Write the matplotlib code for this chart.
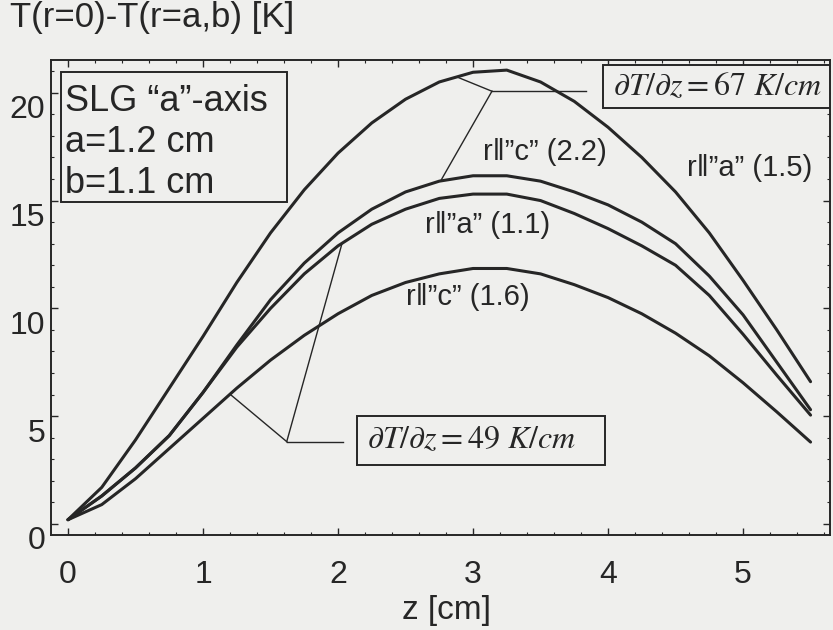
import numpy as np
import matplotlib
matplotlib.use("Agg")
import matplotlib.pyplot as plt
from matplotlib.patches import Rectangle
from matplotlib.ticker import MultipleLocator
import matplotlib.transforms as mtransforms

# axial position z [cm]
z = [0.0, 0.25, 0.5, 0.75, 1.0, 1.25, 1.5, 1.75, 2.0, 2.25, 2.5, 2.75,
     3.0, 3.25, 3.5, 3.75, 4.0, 4.25, 4.5, 4.75, 5.0, 5.25, 5.5]

# T(r=0)-T(r=a,b) [K] for each direction / gradient case
dT_a_15 = [0.2, 1.7, 3.9, 6.3, 8.7, 11.2, 13.5, 15.5, 17.2, 18.6, 19.7, 20.5,
           20.95, 21.05, 20.5, 19.6, 18.4, 17.0, 15.4, 13.5, 11.3, 9.0, 6.6]
dT_c_22 = [0.2, 1.3, 2.6, 4.1, 6.1, 8.3, 10.4, 12.1, 13.5, 14.6, 15.4, 15.9,
           16.15, 16.15, 15.9, 15.4, 14.8, 14.0, 13.0, 11.5, 9.7, 7.5, 5.3]
dT_a_11 = [0.2, 1.3, 2.6, 4.1, 6.1, 8.2, 10.0, 11.6, 12.9, 13.9, 14.6, 15.1,
           15.3, 15.3, 15.0, 14.4, 13.7, 12.9, 12.0, 10.6, 8.8, 6.9, 5.05]
dT_c_16 = [0.2, 0.9, 2.1, 3.5, 4.9, 6.3, 7.6, 8.75, 9.75, 10.6, 11.2, 11.6,
           11.85, 11.85, 11.6, 11.1, 10.5, 9.75, 8.85, 7.8, 6.55, 5.2, 3.8]

curves = [dT_a_15, dT_c_22, dT_a_11, dT_c_16]
curve_labels = ['r\u2016\u201da\u201d (1.5)', 'r\u2016\u201dc\u201d (2.2)',
                'r\u2016\u201da\u201d (1.1)', 'r\u2016\u201dc\u201d (1.6)']
label_xy = [(5.05, 16.5), (3.53, 17.25), (3.11, 13.86), (2.96, 10.52)]

grad_texts = [r'$\partial T/\partial z = 67\ K/cm$', r'$\partial T/\partial z = 49\ K/cm$']
# text anchor and frame (axes fraction) of each gradient note
grad_text_at = [(0.7216, 0.943), (0.4059, 0.199)]
grad_frame = [(0.709, 0.899, 0.32, 0.09), (0.393, 0.147, 0.318, 0.1035)]
# callout: vertex, end of horizontal tick, and z where each leg meets a curve
grad_vertex = [(3.14, 20.07), (1.62, 3.82)]
grad_hend = [3.84, 2.04]
grad_hits = [[(0, 2.88), (1, 2.76)], [(3, 1.2), (2, 2.03)]]

info_lines = ['SLG \u201ca\u201d-axis', 'a=1.2 cm', 'b=1.1 cm']

ink = '#262626'
paper = '#efefed'
plt.rcParams['font.family'] = ['Liberation Sans', 'DejaVu Sans']
plt.rcParams['mathtext.fontset'] = 'stix'

fig = plt.figure(figsize=(8.33, 6.30), dpi=100, facecolor=paper)
ax = fig.add_axes([0.0609, 0.1508, 0.9355, 0.754], facecolor=paper)

for y in curves:
    ax.plot(z, y, color=ink, lw=2.2, solid_joinstyle='round', solid_capstyle='round')

for txt, (x, y) in zip(curve_labels, label_xy):
    ax.text(x, y, txt, fontsize=21, ha='center', va='center', color=ink)

for txt, (tx, ty), (fx, fy, fw, fh), (vx, vy), hx, hits in zip(
        grad_texts, grad_text_at, grad_frame, grad_vertex, grad_hend, grad_hits):
    ax.plot([vx, hx], [vy, vy], color=ink, lw=1.0)
    for ci, zc in hits:
        ax.plot([vx, zc], [vy, np.interp(zc, z, curves[ci])], color=ink, lw=1.0)
    ax.add_patch(Rectangle((fx, fy), fw, fh, transform=ax.transAxes,
                           fc=paper, ec=ink, lw=1.4, zorder=3))
    ax.text(tx, ty, txt, transform=ax.transAxes, fontsize=23, ha='left', va='center',
            color=ink, clip_on=True, zorder=4)

ax.add_patch(Rectangle((0.0132, 0.701), 0.29, 0.274, transform=ax.transAxes,
                       fill=False, ec=ink, lw=1.4))
for txt, yb in zip(info_lines, [0.893, 0.807, 0.72]):
    ax.text(0.0183, yb, txt, transform=ax.transAxes, fontsize=26, va='baseline', color=ink)

ax.set_xlim(-0.128, 5.644)
ax.set_ylim(-0.51, 21.52)
ax.set_xticks(range(0, 6))
ax.set_yticks(range(0, 21, 5))
ax.xaxis.set_minor_locator(MultipleLocator(0.2))
ax.yaxis.set_minor_locator(MultipleLocator(1))
ax.tick_params(which='both', direction='in', top=True, right=True, colors=ink)
ax.tick_params(which='major', length=5, width=1.0, labelsize=23)
ax.tick_params(which='minor', length=2.5, width=0.8)
ax.tick_params(axis='x', pad=18)
ax.tick_params(axis='y', pad=4)
for s in ax.spines.values():
    s.set_color(ink)
    s.set_linewidth(1.4)
    s.set_zorder(5)

shift = mtransforms.ScaledTranslation(0, -0.14, fig.dpi_scale_trans)
for t in ax.yaxis.get_major_ticks():
    t.label1.set_transform(t.label1.get_transform() + shift)

fig.text(0.012, 1 - 18 / 630, 'T(r=0)-T(r=a,b) [K]', fontsize=25, va='center', color=ink)
fig.text(446 / 833, 1 - 610 / 630, 'z [cm]', fontsize=24, ha='center', va='center', color=ink)

fig.savefig('out.png', dpi=100, facecolor=paper)
